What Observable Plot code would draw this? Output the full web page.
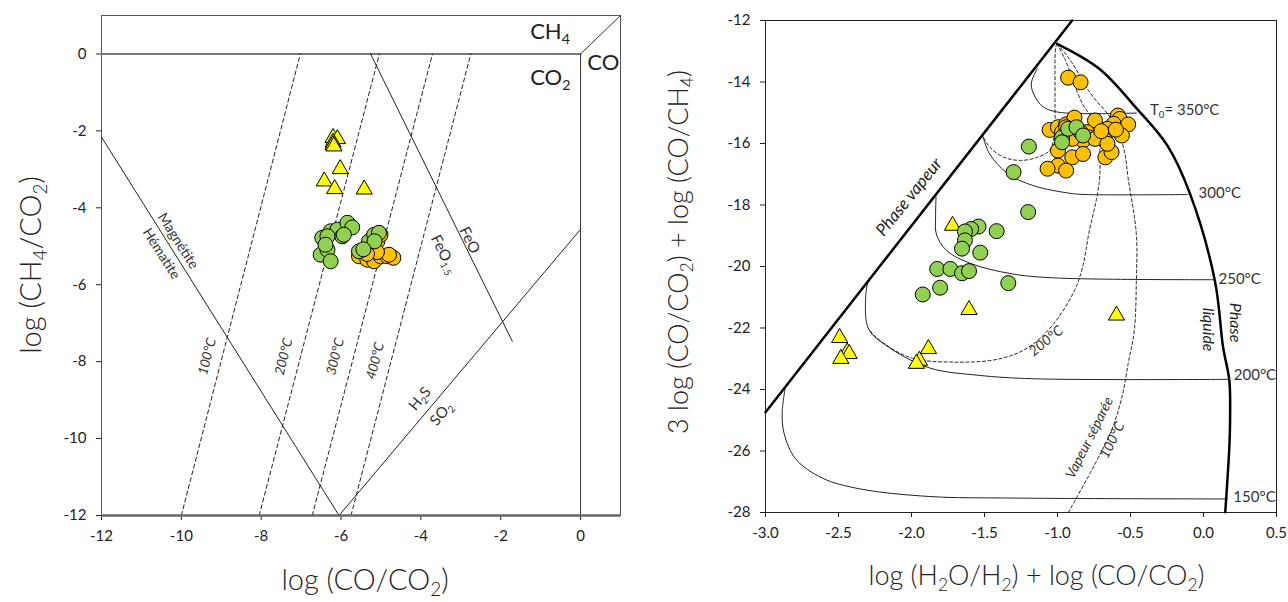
<!DOCTYPE html>
<html><head><meta charset="utf-8">
<script src="https://cdn.jsdelivr.net/npm/d3@7"></script>
<script src="https://cdn.jsdelivr.net/npm/@observablehq/plot@0.6"></script>
<style>
body{margin:0;background:#fff;}
#wrap{position:relative;width:1288px;height:602px;overflow:hidden;background:#fff;}
#left{position:absolute;left:0;top:0;}
#right{position:absolute;left:640px;top:0;}
</style></head><body><div id="wrap"><div id="left"></div><div id="right"></div></div>
<script>
const FONT = "Lato, 'Open Sans', sans-serif";

// ---------- LEFT PANEL DATA ----------
const leftXTicks = [-12, -10, -8, -6, -4, -2, 0];
const leftYTicks = [0, -2, -4, -6, -8, -10, -12];
const leftYellow = [[-6.20,-2.18],[-6.09,-2.21],[-6.20,-2.30],[-6.20,-2.36],[-6.18,-2.40],[-6.02,-2.99],[-6.42,-3.31],[-6.16,-3.51],[-5.42,-3.52]];
const leftOrange = [[-5.55,-5.26],[-5.34,-5.35],[-5.17,-5.39],[-5.01,-5.26],[-4.84,-5.26],[-5.09,-4.87],[-5.01,-4.70],[-5.26,-5.09],[-4.69,-5.30],[-4.80,-5.22],[-5.20,-5.00],[-5.10,-5.15],[-5.35,-5.20]];
const leftGreen = [[-6.47,-4.78],[-6.26,-4.61],[-6.09,-4.57],[-5.84,-4.39],[-5.72,-4.51],[-5.97,-4.74],[-6.34,-4.74],[-6.51,-5.22],[-6.34,-5.09],[-6.26,-5.39],[-6.39,-4.96],[-5.93,-4.70],[-5.55,-5.13],[-5.30,-4.87],[-5.17,-4.70],[-5.05,-4.65],[-5.16,-4.87],[-5.44,-5.08]];
// reference lines
const lineCH4 = [[-12,0],[0,0]];
const lineCorner = [[0,0],[1,1]];
const lineCO = [[0,0],[0,-12]];
const lineMagnetite = [[-12,-2.16],[-6.05,-12]];
const lineH2S = [[-6.05,-12],[0,-4.56]];
const lineFeO = [[-5.26,0],[-1.71,-7.47]];
const iso100 = [[-10.0,-12],[-7.02,0]];
const iso200 = [[-8.05,-12],[-5.04,0]];
const iso300 = [[-6.72,-12],[-3.71,0]];
const iso400 = [[-5.75,-12],[-2.75,0]];

// ---------- RIGHT PANEL DATA ----------
const rightXTicks = [-3, -2.5, -2, -1.5, -1, -0.5, 0, 0.5];
const rightYTicks = [-12, -14, -16, -18, -20, -22, -24, -26, -28];
const rightYellow = [[-1.719,-18.67],[-1.606,-21.41],[-0.596,-21.59],[-2.492,-22.32],[-2.441,-22.79],[-2.427,-22.84],[-2.484,-23.00],[-1.884,-22.68],[-1.946,-23.06],[-1.966,-23.16]];
const rightOrange = [[-0.927,-13.86],[-0.842,-14.01],[-1.054,-15.56],[-0.997,-15.47],[-0.941,-15.38],[-0.884,-15.16],[-0.743,-15.25],[-0.586,-15.09],[-0.573,-15.20],[-0.615,-15.36],[-0.516,-15.38],[-0.559,-15.74],[-0.658,-15.52],[-0.713,-15.74],[-0.800,-15.63],[-0.785,-15.80],[-0.825,-15.90],[-0.899,-15.85],[-0.672,-15.90],[-0.743,-15.85],[-0.997,-16.23],[-0.899,-16.45],[-0.825,-16.34],[-0.672,-16.45],[-0.630,-16.28],[-0.997,-16.72],[-0.941,-16.88],[-1.068,-16.82],[-0.658,-16.01],[-0.842,-15.63],[-0.969,-15.63],[-0.941,-15.47],[-0.70,-15.60],[-0.60,-15.55]];
const rightGreen = [[-0.969,-15.80],[-0.927,-15.52],[-0.870,-15.47],[-0.825,-15.74],[-0.969,-15.96],[-1.196,-16.10],[-1.301,-16.93],[-1.201,-18.23],[-1.417,-18.85],[-1.541,-18.70],[-1.592,-18.78],[-1.634,-18.86],[-1.634,-19.15],[-1.654,-19.42],[-1.529,-19.55],[-1.824,-20.08],[-1.734,-20.08],[-1.654,-20.22],[-1.606,-20.15],[-1.337,-20.54],[-1.804,-20.69],[-1.923,-20.91]];
const phaseVapeur = [[-3.0,-24.74],[-0.90,-12.0]];
const phaseLiquide = [[-1.003,-12.76],[-0.714,-13.57],[-0.46,-14.85],[-0.247,-16.07],[-0.092,-17.64],[0.078,-20.46],[0.134,-22.62],[0.177,-23.71],[0.182,-25.0],[0.177,-25.88],[0.149,-27.99]];
const t350 = [[-1.139,-13.57],[-1.18,-14.06],[-1.153,-14.49],[-1.10,-14.80],[-0.997,-14.98],[-0.46,-15.01]];
const t300 = [[-1.513,-15.74],[-1.465,-16.34],[-1.337,-16.99],[-1.166,-17.37],[-0.912,-17.62],[-0.80,-17.66],[-0.106,-17.66]];
const t250 = [[-1.832,-17.74],[-1.835,-18.40],[-1.83,-18.94],[-1.76,-19.48],[-1.59,-19.91],[-1.31,-20.24],[-1.026,-20.37],[0.073,-20.43]];
const t200 = [[-2.30,-20.50],[-2.314,-21.0],[-2.294,-22.03],[-2.158,-22.62],[-1.875,-23.30],[-1.536,-23.54],[-1.167,-23.65],[0.177,-23.67]];
const t150 = [[-2.866,-23.98],[-2.886,-24.79],[-2.872,-25.44],[-2.795,-26.25],[-2.611,-26.88],[-2.356,-27.23],[-1.875,-27.48],[-1.309,-27.53],[0.163,-27.56]];
const sep350 = [[-1.003,-12.76],[-1.012,-12.87],[-1.017,-14.60],[-1.021,-15.68],[-1.055,-16.23],[-1.139,-16.45],[-1.252,-16.55],[-1.366,-16.45],[-1.464,-16.12],[-1.507,-15.80]];
const sep200 = [[-1.003,-12.76],[-0.945,-13.30],[-0.83,-14.70],[-0.72,-15.48],[-0.71,-16.23],[-0.715,-17.30],[-0.786,-18.94],[-0.828,-20.02],[-0.884,-20.78],[-1.026,-21.86],[-1.196,-22.62],[-1.394,-23.00],[-1.705,-23.11],[-2.016,-22.95],[-2.243,-22.30],[-2.284,-22.08]];
const sep100 = [[-1.003,-12.76],[-0.911,-13.30],[-0.774,-14.37],[-0.625,-15.25],[-0.548,-16.13],[-0.514,-17.20],[-0.46,-18.94],[-0.46,-20.46],[-0.474,-22.08],[-0.516,-23.16],[-0.559,-24.25],[-0.63,-25.33],[-0.743,-26.42],[-0.926,-28.0]];

const X = d => d[0], Y = d => d[1];
const COLORS = {yellow: "#FFFF00", orange: "#FFC000", green: "#92D050"};

function richText(g, px, py, parts, o = {}) {
  const size = o.size || 14;
  const t = g.append("text")
    .attr("transform", `translate(${px},${py}) rotate(${o.rotate || 0})`)
    .attr("text-anchor", o.anchor || "middle")
    .attr("font-size", size)
    .attr("font-family", FONT)
    .attr("font-weight", o.weight || 400)
    .attr("font-style", o.italic ? "italic" : "normal")
    .attr("fill", o.fill || "#222")
    .attr("y", o.center ? size * 0.35 : 0);
  let shifted = false;
  const shift = size * 0.22;
  for (const p of parts) {
    const isSub = Array.isArray(p);
    const s = t.append("tspan").text(isSub ? p[0] : p);
    if (isSub) {
      s.attr("font-size", size * 0.65);
      if (!shifted) { s.attr("dy", shift); shifted = true; }
    } else if (shifted) { s.attr("dy", -shift); shifted = false; }
  }
}

// ---------- LEFT PLOT ----------
const dash = "4,3";
const leftPlot = Plot.plot({
  width: 640, height: 602,
  marginLeft: 101, marginRight: 20, marginTop: 15, marginBottom: 87,
  style: {fontFamily: FONT, fontSize: "15px", color: "#222", background: "transparent", overflow: "visible"},
  x: {domain: [-12, 1], ticks: leftXTicks, tickFormat: d => String(d), tickSize: 5, tickPadding: 10, label: null},
  y: {domain: [-12, 1], ticks: leftYTicks, tickFormat: d => String(d), tickSize: 5, tickPadding: 10, label: null},
  marks: [
    Plot.frame({stroke: "#555"}),
    Plot.line(lineCH4, {x: X, y: Y, stroke: "#777", strokeWidth: 2}),
    Plot.line(lineCorner, {x: X, y: Y, stroke: "#333", strokeWidth: 1}),
    Plot.line(lineCO, {x: X, y: Y, stroke: "#333", strokeWidth: 1}),
    Plot.line(lineMagnetite, {x: X, y: Y, stroke: "#222", strokeWidth: 1}),
    Plot.line(lineH2S, {x: X, y: Y, stroke: "#222", strokeWidth: 1}),
    Plot.line(lineFeO, {x: X, y: Y, stroke: "#222", strokeWidth: 1}),
    Plot.line(iso100, {x: X, y: Y, stroke: "#222", strokeWidth: 1, strokeDasharray: dash}),
    Plot.line(iso200, {x: X, y: Y, stroke: "#222", strokeWidth: 1, strokeDasharray: dash}),
    Plot.line(iso300, {x: X, y: Y, stroke: "#222", strokeWidth: 1, strokeDasharray: dash}),
    Plot.line(iso400, {x: X, y: Y, stroke: "#222", strokeWidth: 1, strokeDasharray: dash}),
    Plot.ruleY([-12], {stroke: "#666", strokeWidth: 2.5}),
    Plot.dot(leftYellow, {x: X, y: Y, symbol: "triangle", r: 6, fill: COLORS.yellow, stroke: "#000", strokeWidth: 1}),
    Plot.dot(leftOrange, {x: X, y: Y, r: 7.5, fill: COLORS.orange, stroke: "#000", strokeWidth: 1}),
    Plot.dot(leftGreen, {x: X, y: Y, r: 7.5, fill: COLORS.green, stroke: "#000", strokeWidth: 1})
  ]
});
document.getElementById("left").appendChild(leftPlot);
{
  const sx = leftPlot.scale("x"), sy = leftPlot.scale("y");
  const g = d3.select(leftPlot).append("g");
  const L = (x, y, parts, o) => richText(g, sx.apply(x), sy.apply(y), parts, o);
  L(-1.25, 0.37, ["CH", ["4"]], {size: 22, anchor: "start"});
  L(-1.25, -0.82, ["CO", ["2"]], {size: 22, anchor: "start"});
  L(0.18, -0.43, ["CO"], {size: 22, anchor: "start"});
  L(-10.06, -4.87, ["Magnétite"], {size: 14, rotate: 57.5, center: true, fill: "#333"});
  L(-10.48, -5.20, ["Hématite"], {size: 14, rotate: 57.5, center: true, fill: "#333"});
  L(-2.76, -4.85, ["FeO"], {size: 15, rotate: 63.5, center: true, fill: "#333"});
  L(-3.40, -5.22, ["FeO", ["1.5"]], {size: 15, rotate: 63.5, center: true, fill: "#333"});
  L(-9.35, -7.88, ["100°C"], {size: 13.5, rotate: -75.6, center: true, italic: true, fill: "#333"});
  L(-7.43, -7.88, ["200°C"], {size: 13.5, rotate: -75.6, center: true, italic: true, fill: "#333"});
  L(-6.14, -7.88, ["300°C"], {size: 13.5, rotate: -75.6, center: true, italic: true, fill: "#333"});
  L(-5.14, -7.99, ["400°C"], {size: 13.5, rotate: -75.6, center: true, italic: true, fill: "#333"});
  L(-4.02, -8.97, ["H", ["2"], "S"], {size: 15, rotate: -50, center: true, fill: "#333"});
  L(-3.48, -9.36, ["SO", ["2"]], {size: 15, rotate: -50, center: true, fill: "#333"});
  // axis titles
  richText(g, 365, 590, ["log (CO/CO", ["2"], ")"], {size: 29, weight: 300});
  richText(g, 41, 265, ["log (CH", ["4"], "/CO", ["2"], ")"], {size: 29, weight: 300, rotate: -90});
}

// ---------- RIGHT PLOT ----------
const rightPlot = Plot.plot({
  width: 648, height: 602,
  marginLeft: 125, marginRight: 12, marginTop: 20, marginBottom: 90,
  style: {fontFamily: FONT, fontSize: "15px", color: "#222", background: "transparent", overflow: "visible"},
  x: {domain: [-3, 0.5], ticks: rightXTicks, tickFormat: d => d.toFixed(1), tickSize: 5, tickPadding: 10, label: null},
  y: {domain: [-28, -12], ticks: rightYTicks, tickFormat: d => String(d), tickSize: 5, tickPadding: 10, label: null},
  marks: [
    Plot.frame({stroke: "#222"}),
    Plot.line(t350, {x: X, y: Y, curve: "catmull-rom", stroke: "#222", strokeWidth: 1}),
    Plot.line(t300, {x: X, y: Y, curve: "catmull-rom", stroke: "#222", strokeWidth: 1}),
    Plot.line(t250, {x: X, y: Y, curve: "catmull-rom", stroke: "#222", strokeWidth: 1}),
    Plot.line(t200, {x: X, y: Y, curve: "catmull-rom", stroke: "#222", strokeWidth: 1}),
    Plot.line(t150, {x: X, y: Y, curve: "catmull-rom", stroke: "#222", strokeWidth: 1}),
    Plot.line(sep350, {x: X, y: Y, curve: "catmull-rom", stroke: "#222", strokeWidth: 1, strokeDasharray: "3,2.5"}),
    Plot.line(sep200, {x: X, y: Y, curve: "catmull-rom", stroke: "#222", strokeWidth: 1, strokeDasharray: "3,2.5"}),
    Plot.line(sep100, {x: X, y: Y, curve: "catmull-rom", stroke: "#222", strokeWidth: 1, strokeDasharray: "3,2.5"}),
    Plot.line(phaseVapeur, {x: X, y: Y, stroke: "#000", strokeWidth: 2.5}),
    Plot.line(phaseLiquide, {x: X, y: Y, curve: "catmull-rom", stroke: "#000", strokeWidth: 2.5}),
    Plot.dot(rightYellow, {x: X, y: Y, symbol: "triangle", r: 6, fill: COLORS.yellow, stroke: "#000", strokeWidth: 1}),
    Plot.dot(rightOrange, {x: X, y: Y, r: 7.5, fill: COLORS.orange, stroke: "#000", strokeWidth: 1}),
    Plot.dot(rightGreen, {x: X, y: Y, r: 7.5, fill: COLORS.green, stroke: "#000", strokeWidth: 1})
  ]
});
document.getElementById("right").appendChild(rightPlot);
{
  const sx = rightPlot.scale("x"), sy = rightPlot.scale("y");
  const g = d3.select(rightPlot).append("g");
  const L = (x, y, parts, o) => richText(g, sx.apply(x), sy.apply(y), parts, o);
  L(-0.363, -15.09, ["T", ["0"], "= 350°C"], {size: 15, anchor: "start", fill: "#333"});
  L(-0.03, -17.80, ["300°C"], {size: 15, anchor: "start", fill: "#333"});
  L(0.106, -20.59, ["250°C"], {size: 15, anchor: "start", fill: "#333"});
  L(0.211, -23.71, ["200°C"], {size: 15, anchor: "start", fill: "#333"});
  L(0.208, -27.66, ["150°C"], {size: 15, anchor: "start", fill: "#333"});
  L(-2.016, -17.75, ["Phase vapeur"], {size: 17, rotate: -51, center: true, italic: true, fill: "#222"});
  L(0.223, -21.84, ["Phase"], {size: 16, rotate: 90, center: true, italic: true, fill: "#222"});
  L(0.038, -22.07, ["liquide"], {size: 16, rotate: 90, center: true, italic: true, fill: "#222"});
  L(-1.077, -22.43, ["200°C"], {size: 14, rotate: -39, center: true, italic: true, fill: "#333"});
  L(-0.78, -25.58, ["Vapeur séparée"], {size: 14, rotate: -63.4, center: true, italic: true, fill: "#333"});
  L(-0.624, -25.66, ["100°C"], {size: 14, rotate: -63.4, center: true, italic: true, fill: "#333"});
  richText(g, 396.5, 585, ["log (H", ["2"], "O/H", ["2"], ") + log (CO/CO", ["2"], ")"], {size: 27, weight: 300});
  richText(g, 47.5, 252, ["3 log (CO/CO", ["2"], ") + log (CO/CH", ["4"], ")"], {size: 27, weight: 300, rotate: -90});
}
</script>
</body></html>
